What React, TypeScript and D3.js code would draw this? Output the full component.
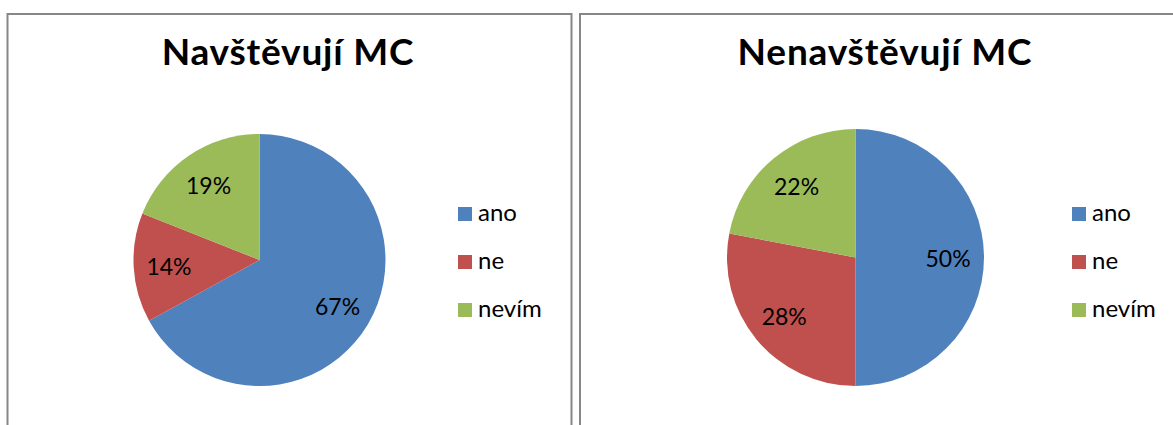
import React from 'react'
import * as d3 from 'd3'

const categories = ['ano', 'ne', 'nevím']
const colors = ['#4F81BD', '#C0504D', '#9BBB59']
const visitValues = [67, 14, 19]
const nonVisitValues = [50, 28, 22]
const titles = ['Navštěvují MC', 'Nenavštěvují MC']

const FONT = 'Lato, Carlito, Calibri, sans-serif'

const panels = [
	{ title: titles[0], values: visitValues, x0: 7.5, x1: 571.5, cx: 259.5, cy: 260, r: 126, legendX: 458, titleX: 288 },
	{ title: titles[1], values: nonVisitValues, x0: 580, x1: 1200, cx: 855.5, cy: 257.5, r: 128.5, legendX: 1072, titleX: 885 },
]

const Panel = ({ p }) => {
	const pie = d3
		.pie<number>()
		.sort(null)
		.value(d => d)
	const arcs = pie(p.values)
	const arc = d3.arc<d3.PieArcDatum<number>>().innerRadius(0).outerRadius(p.r)
	const labelArc = d3
		.arc<d3.PieArcDatum<number>>()
		.innerRadius(p.r * 0.72)
		.outerRadius(p.r * 0.72)
	const legendY = d3.scalePoint<string>().domain(categories).range([214, 310])

	return (
		<g>
			<rect x={p.x0} y={14} width={p.x1 - p.x0} height={500} fill='#fff' stroke='#878787' strokeWidth={2} />
			<text
				x={p.titleX}
				y={65}
				textAnchor='middle'
				fontFamily={FONT}
				fontWeight={700}
				fontSize={37}
				letterSpacing={0.8}
				fill='#000'
			>
				{p.title}
			</text>
			<g transform={`translate(${p.cx},${p.cy})`}>
				{arcs.map((a, i) => (
					<path key={i} d={arc(a)} fill={colors[i]} />
				))}
				{arcs.map((a, i) => {
					const [lx, ly] = labelArc.centroid(a)
					return (
						<text key={i} x={lx} y={ly} textAnchor='middle' dominantBaseline='central' fontFamily={FONT} fontSize={23} fill='#000'>
							{d3.format('.0f')(a.data)}%
						</text>
					)
				})}
			</g>
			{categories.map((c, i) => (
				<g key={c} transform={`translate(${p.legendX},${legendY(c)})`}>
					<rect x={0} y={-7} width={14} height={14} fill={colors[i]} />
					<text x={20} y={7} fontFamily={FONT} fontSize={24} fill='#000'>
						{c}
					</text>
				</g>
			))}
		</g>
	)
}

const App = () => {
	return (
		<svg width={1173} height={425} style={{ position: 'absolute', left: 0, top: 0 }}>
			<rect width={1173} height={425} fill='#fff' />
			{panels.map(p => (
				<Panel key={p.title} p={p} />
			))}
		</svg>
	)
}

export default App
